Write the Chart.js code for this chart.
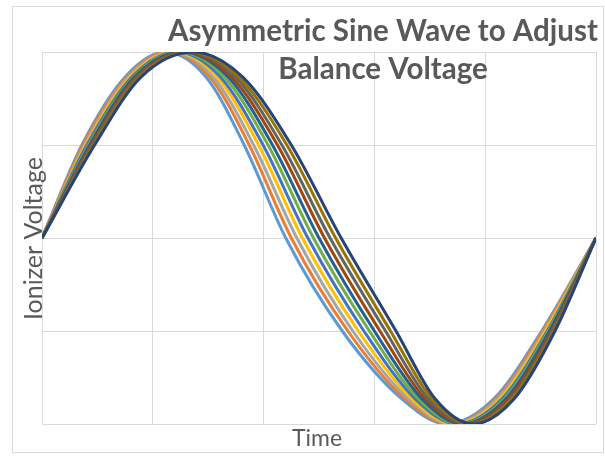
<!DOCTYPE html>
<html>
<head>
<meta charset="utf-8">
<title>Asymmetric Sine Wave to Adjust Balance Voltage</title>
<script src="https://cdn.jsdelivr.net/npm/chart.js@4.4.1/dist/chart.umd.min.js"></script>
<style>
  html, body { margin: 0; padding: 0; background: #fff; }
  #wrap { width: 605px; height: 456px; }
</style>
</head>
<body>
<div id="wrap"><canvas id="chartWave" width="605" height="456"></canvas></div>
<script>
/* -----------------------------------------
   Data: one period of each wave (time 0-100)
   Every wave passes through the same voltage
   levels, at its own time.
------------------------------------------ */
const levels = [0, 0.5, 0.866, 1, 0.866, 0.5, 0, -0.5, -0.866, -1, -0.866, -0.5, 0];

const wave1  = [0, 7.2, 15.0, 22.3, 29.6, 36.5, 44.0, 54.2, 65.0, 73.0, 81.5, 90.2, 100];
const wave2  = [0, 7.4, 15.3, 22.8, 30.3, 37.4, 45.0, 55.2, 65.6, 73.5, 81.9, 90.4, 100];
const wave3  = [0, 7.7, 15.6, 23.3, 30.9, 38.2, 46.0, 56.1, 66.2, 74.0, 82.2, 90.7, 100];
const wave4  = [0, 7.9, 15.9, 23.8, 31.6, 39.1, 47.0, 57.1, 66.8, 74.4, 82.6, 90.9, 100];
const wave5  = [0, 8.1, 16.2, 24.3, 32.2, 39.9, 48.0, 58.1, 67.4, 74.9, 83.0, 91.2, 100];
const wave6  = [0, 8.4, 16.5, 24.8, 32.9, 40.8, 49.0, 59.1, 68.0, 75.4, 83.4, 91.4, 100];
const wave7  = [0, 8.6, 16.7, 25.3, 33.6, 41.6, 50.0, 60.0, 68.6, 75.9, 83.7, 91.6, 100];
const wave8  = [0, 8.8, 17.0, 25.8, 34.2, 42.5, 51.0, 61.0, 69.2, 76.4, 84.1, 91.9, 100];
const wave9  = [0, 9.0, 17.3, 26.3, 34.9, 43.3, 52.0, 62.0, 69.8, 76.8, 84.5, 92.1, 100];
const wave10 = [0, 9.3, 17.6, 26.8, 35.5, 44.2, 53.0, 62.9, 70.4, 77.3, 84.8, 92.4, 100];
const wave11 = [0, 9.5, 17.9, 27.3, 36.2, 45.0, 54.0, 63.9, 71.0, 77.8, 85.2, 92.6, 100];

const seriesNames = ["Series1", "Series2", "Series3", "Series4", "Series5", "Series6",
                     "Series7", "Series8", "Series9", "Series10", "Series11"];

const titleLines = ["Asymmetric Sine Wave to Adjust", "Balance Voltage"];
const xTitle = "Time";
const yTitle = "Ionizer Voltage";

// Office palette, in series order
const waveColors = ["#5B9BD5", "#ED7D31", "#A5A5A5", "#FFC000", "#4472C4", "#70AD47",
                    "#255E91", "#9E480E", "#636363", "#997300", "#264478"];

const waves = [wave1, wave2, wave3, wave4, wave5, wave6, wave7, wave8, wave9, wave10, wave11];

const datasets = waves.map((times, i) => ({
  label: seriesNames[i],
  data: levels.map((v, j) => ({ x: times[j], y: v })),
  borderColor: waveColors[i],
  borderWidth: 3,
  pointRadius: 0,
  fill: false,
  cubicInterpolationMode: "monotone",
  // last series on top, like Excel
  order: waves.length - i,
}));

/* -----------------------------------------
   Texts + outer frame (title overlays plot)
------------------------------------------ */
function fitSize(ctx, text, weight, family, width) {
  ctx.font = weight + " 20px " + family;
  return 20 * width / ctx.measureText(text).width;
}

const textPlugin = {
  id: "excelTexts",
  beforeDraw(chart) {
    const ctx = chart.ctx;
    ctx.save();
    ctx.fillStyle = "#ffffff";
    ctx.fillRect(0, 0, chart.width, chart.height);
    ctx.strokeStyle = "#D9D9D9";
    ctx.lineWidth = 1;
    ctx.strokeRect(12.5, 6.5, 591, 446);
    ctx.restore();
  },
  afterDraw(chart) {
    const ctx = chart.ctx;
    const fam = "Lato, 'Open Sans', sans-serif";
    ctx.save();
    ctx.fillStyle = "#595959";
    ctx.textAlign = "center";
    ctx.textBaseline = "alphabetic";

    // chart title, two lines
    const s1 = fitSize(ctx, titleLines[0], "bold", fam, 430);
    ctx.font = "bold " + s1.toFixed(2) + "px " + fam;
    ctx.fillText(titleLines[0], 383, 41);
    ctx.fillText(titleLines[1], 383, 79);

    // x axis title
    const sx = fitSize(ctx, xTitle, "normal", fam, 50);
    ctx.font = sx.toFixed(2) + "px " + fam;
    ctx.fillText(xTitle, 317, 446);

    // y axis title
    const sy = fitSize(ctx, yTitle, "normal", fam, 163);
    ctx.font = sy.toFixed(2) + "px " + fam;
    ctx.translate(41.5, 238.5);
    ctx.rotate(-Math.PI / 2);
    ctx.fillText(yTitle, 0, 0);
    ctx.restore();
  },
};

new Chart(document.getElementById("chartWave"), {
  type: "line",
  data: { datasets },
  options: {
    responsive: false,
    animation: false,
    devicePixelRatio: 1,
    layout: { padding: { left: 42, right: 9, top: 52, bottom: 32 } },
    plugins: {
      legend: { display: false },
      tooltip: { enabled: false },
    },
    scales: {
      x: {
        type: "linear",
        min: 0,
        max: 100,
        ticks: { display: false, stepSize: 20 },
        grid: { color: "#D9D9D9", drawTicks: false },
        border: { display: false },
      },
      y: {
        type: "linear",
        min: -1,
        max: 1,
        ticks: { display: false, stepSize: 0.5 },
        grid: { color: "#D9D9D9", drawTicks: false },
        border: { display: false },
      },
    },
  },
  plugins: [textPlugin],
});
</script>
</body>
</html>
